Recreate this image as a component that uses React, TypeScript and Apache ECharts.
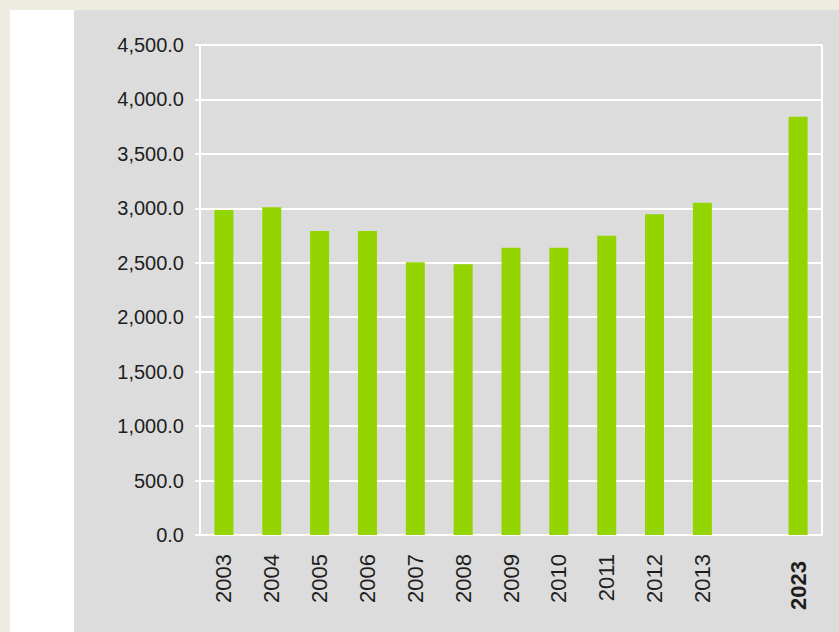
import React, { useEffect, useRef } from "react";
import * as echarts from "echarts";

const categories = ["2003", "2004", "2005", "2006", "2007", "2008", "2009", "2010", "2011", "2012", "2013", "", "2023"];
const values: (number | null)[] = [2985, 3010, 2792, 2792, 2505, 2486, 2638, 2638, 2748, 2945, 3052, null, 3842];
const yTicks = { min: 0, max: 4500, interval: 500 };
const boldCategory = "2023";

export default function App() {
  const ref = useRef<HTMLDivElement>(null);
  useEffect(() => {
    if (!ref.current) return;
    const chart = echarts.init(ref.current, null, { renderer: "svg" });
    const fmt = (v: number) =>
      v.toLocaleString("en-US", { minimumFractionDigits: 1, maximumFractionDigits: 1 });
    chart.setOption({
      animation: false,
      backgroundColor: "#eeebe1",
      textStyle: { fontFamily: "Liberation Sans, Arial, sans-serif" },
      graphic: [
        { type: "rect", z: -10, shape: { x: 10, y: 10, width: 64, height: 640 }, style: { fill: "#ffffff" } },
        { type: "rect", z: -10, shape: { x: 74, y: 10, width: 800, height: 640 }, style: { fill: "#dcdcdc" } },
      ],
      grid: { left: 200, right: 17, top: 45, bottom: 97, containLabel: false },
      xAxis: {
        type: "category",
        data: categories,
        axisLine: {
          show: true,
          lineStyle: { color: "#555555", width: 3, shadowColor: "rgba(0,0,0,0.3)", shadowOffsetY: 1, shadowBlur: 1 },
        },
        axisTick: { show: false },
        axisLabel: {
          rotate: 90,
          interval: 0,
          margin: 19,
          fontSize: 22,
          color: "#1e1e1e",
          formatter: (v: string) => (v === boldCategory ? `{b|${v}}` : v),
          rich: { b: { fontWeight: "bold", fontSize: 22, color: "#1e1e1e", padding: [0, 7, 0, 0] } },
        },
        z: 5,
      },
      yAxis: [
        {
          type: "value",
          min: yTicks.min,
          max: yTicks.max,
          interval: yTicks.interval,
          axisLine: { show: true, lineStyle: { color: "#ffffff", width: 2 } },
          axisTick: { show: true, length: 5, lineStyle: { color: "#ffffff", width: 2 } },
          splitLine: { show: true, lineStyle: { color: "#ffffff", width: 2 } },
          axisLabel: { fontSize: 20, color: "#1e1e1e", margin: 16, formatter: fmt },
        },
        {
          type: "value",
          position: "right",
          min: yTicks.min,
          max: yTicks.max,
          interval: yTicks.interval,
          axisLine: { show: true, lineStyle: { color: "#ffffff", width: 2 } },
          axisTick: { show: false },
          splitLine: { show: false },
          axisLabel: { show: false },
        },
      ],
      series: [
        {
          type: "bar",
          data: values,
          barWidth: 19,
          itemStyle: { color: "#94d400" },
          z: 3,
        },
      ],
    });
    return () => chart.dispose();
  }, []);
  return <div ref={ref} style={{ position: "absolute", left: 0, top: 0, width: 839, height: 632 }} />;
}
